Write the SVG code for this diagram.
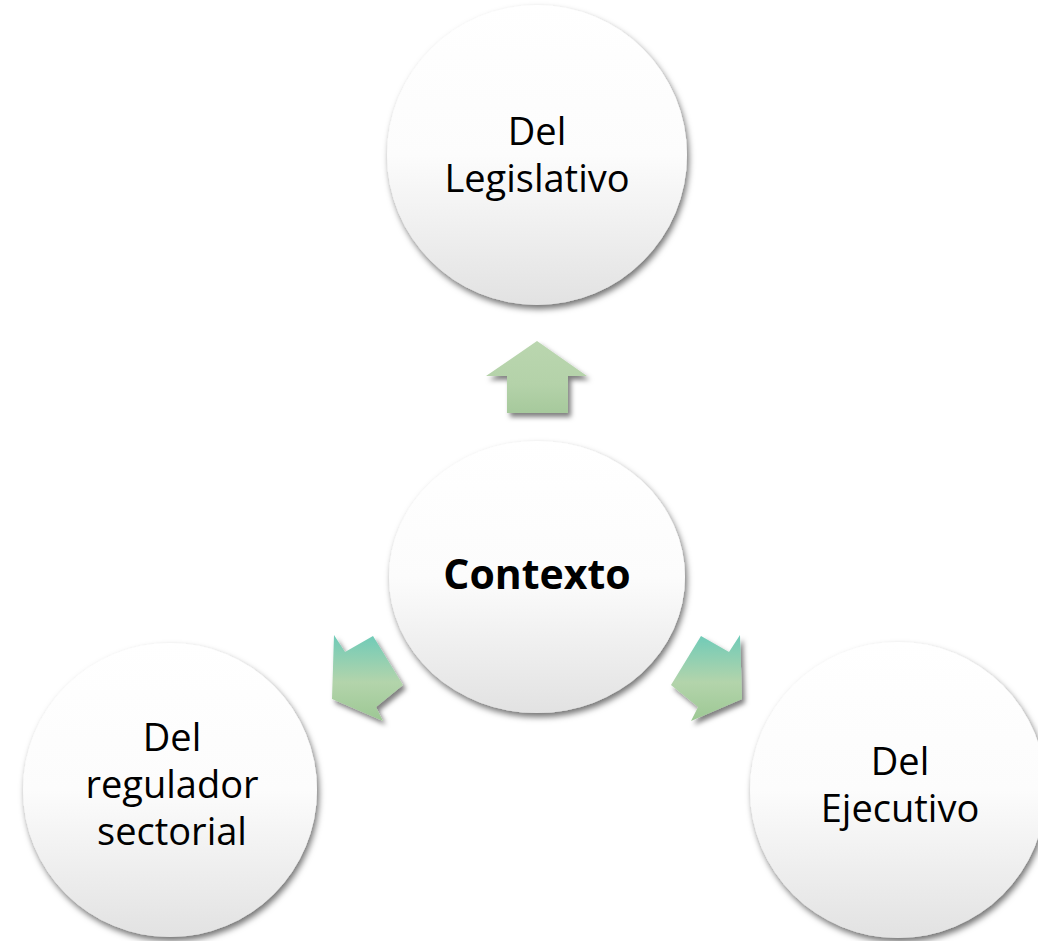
<svg xmlns="http://www.w3.org/2000/svg" width="1038" height="941" viewBox="0 0 1038 941">
<defs>
<linearGradient id="circ" x1="0" y1="0" x2="0" y2="1">
<stop offset="0" stop-color="#ffffff"/>
<stop offset="0.5" stop-color="#fcfcfc"/>
<stop offset="1" stop-color="#e2e2e2"/>
</linearGradient>
<linearGradient id="upArr" x1="0" y1="0" x2="0" y2="1">
<stop offset="0" stop-color="#bad6af"/>
<stop offset="0.6" stop-color="#b4d2a9"/>
<stop offset="1" stop-color="#a6c99c"/>
</linearGradient>
<linearGradient id="sideArr" x1="0" y1="0" x2="0" y2="1">
<stop offset="0" stop-color="#6fcbb8"/>
<stop offset="0.55" stop-color="#b3d4ab"/>
<stop offset="1" stop-color="#9dc894"/>
</linearGradient>
<filter id="sh" x="-20%" y="-20%" width="140%" height="140%">
<feDropShadow dx="2" dy="4" stdDeviation="3" flood-color="#000" flood-opacity="0.55"/>
</filter>
<filter id="ash" x="-30%" y="-30%" width="160%" height="160%">
<feDropShadow dx="3" dy="4" stdDeviation="2.5" flood-color="#000" flood-opacity="0.5"/>
</filter>
</defs>
<style>
.node { fill: url(#circ); filter: url(#sh); }
.lbl { font-family: "Open Sans", "Noto Sans", sans-serif; font-size: 38px; fill: #000; text-anchor: middle; }
.bold { font-weight: bold; font-size: 41px; }
</style>
<rect width="1038" height="941" fill="#ffffff"/>
<g id="connectors">
<polygon points="537,341 587,376 568,376 568,413 507,413 507,376 486,376" fill="url(#upArr)" filter="url(#ash)"/>
<polygon points="334,635 345,652 373,636 403,685 376,707 383,721 332,699" fill="url(#sideArr)" filter="url(#ash)"/>
<polygon points="740,635 729,652 701,636 671,685 698,707 691,721 742,699" fill="url(#sideArr)" filter="url(#ash)"/>
</g>
<g id="node-legislativo">
<circle class="node" cx="537" cy="155" r="150"/>
<text class="lbl" x="537" y="145">Del</text>
<text class="lbl" x="537" y="192">Legislativo</text>
</g>
<g id="node-contexto">
<ellipse class="node" cx="537" cy="577" rx="148" ry="136"/>
<text class="lbl bold" x="537" y="589">Contexto</text>
</g>
<g id="node-regulador">
<circle class="node" cx="170" cy="790" r="147"/>
<text class="lbl" x="172" y="751">Del</text>
<text class="lbl" x="172" y="798">regulador</text>
<text class="lbl" x="172" y="845">sectorial</text>
</g>
<g id="node-ejecutivo">
<circle class="node" cx="898" cy="790" r="148"/>
<text class="lbl" x="900" y="775">Del</text>
<text class="lbl" x="900" y="822">Ejecutivo</text>
</g>
</svg>
